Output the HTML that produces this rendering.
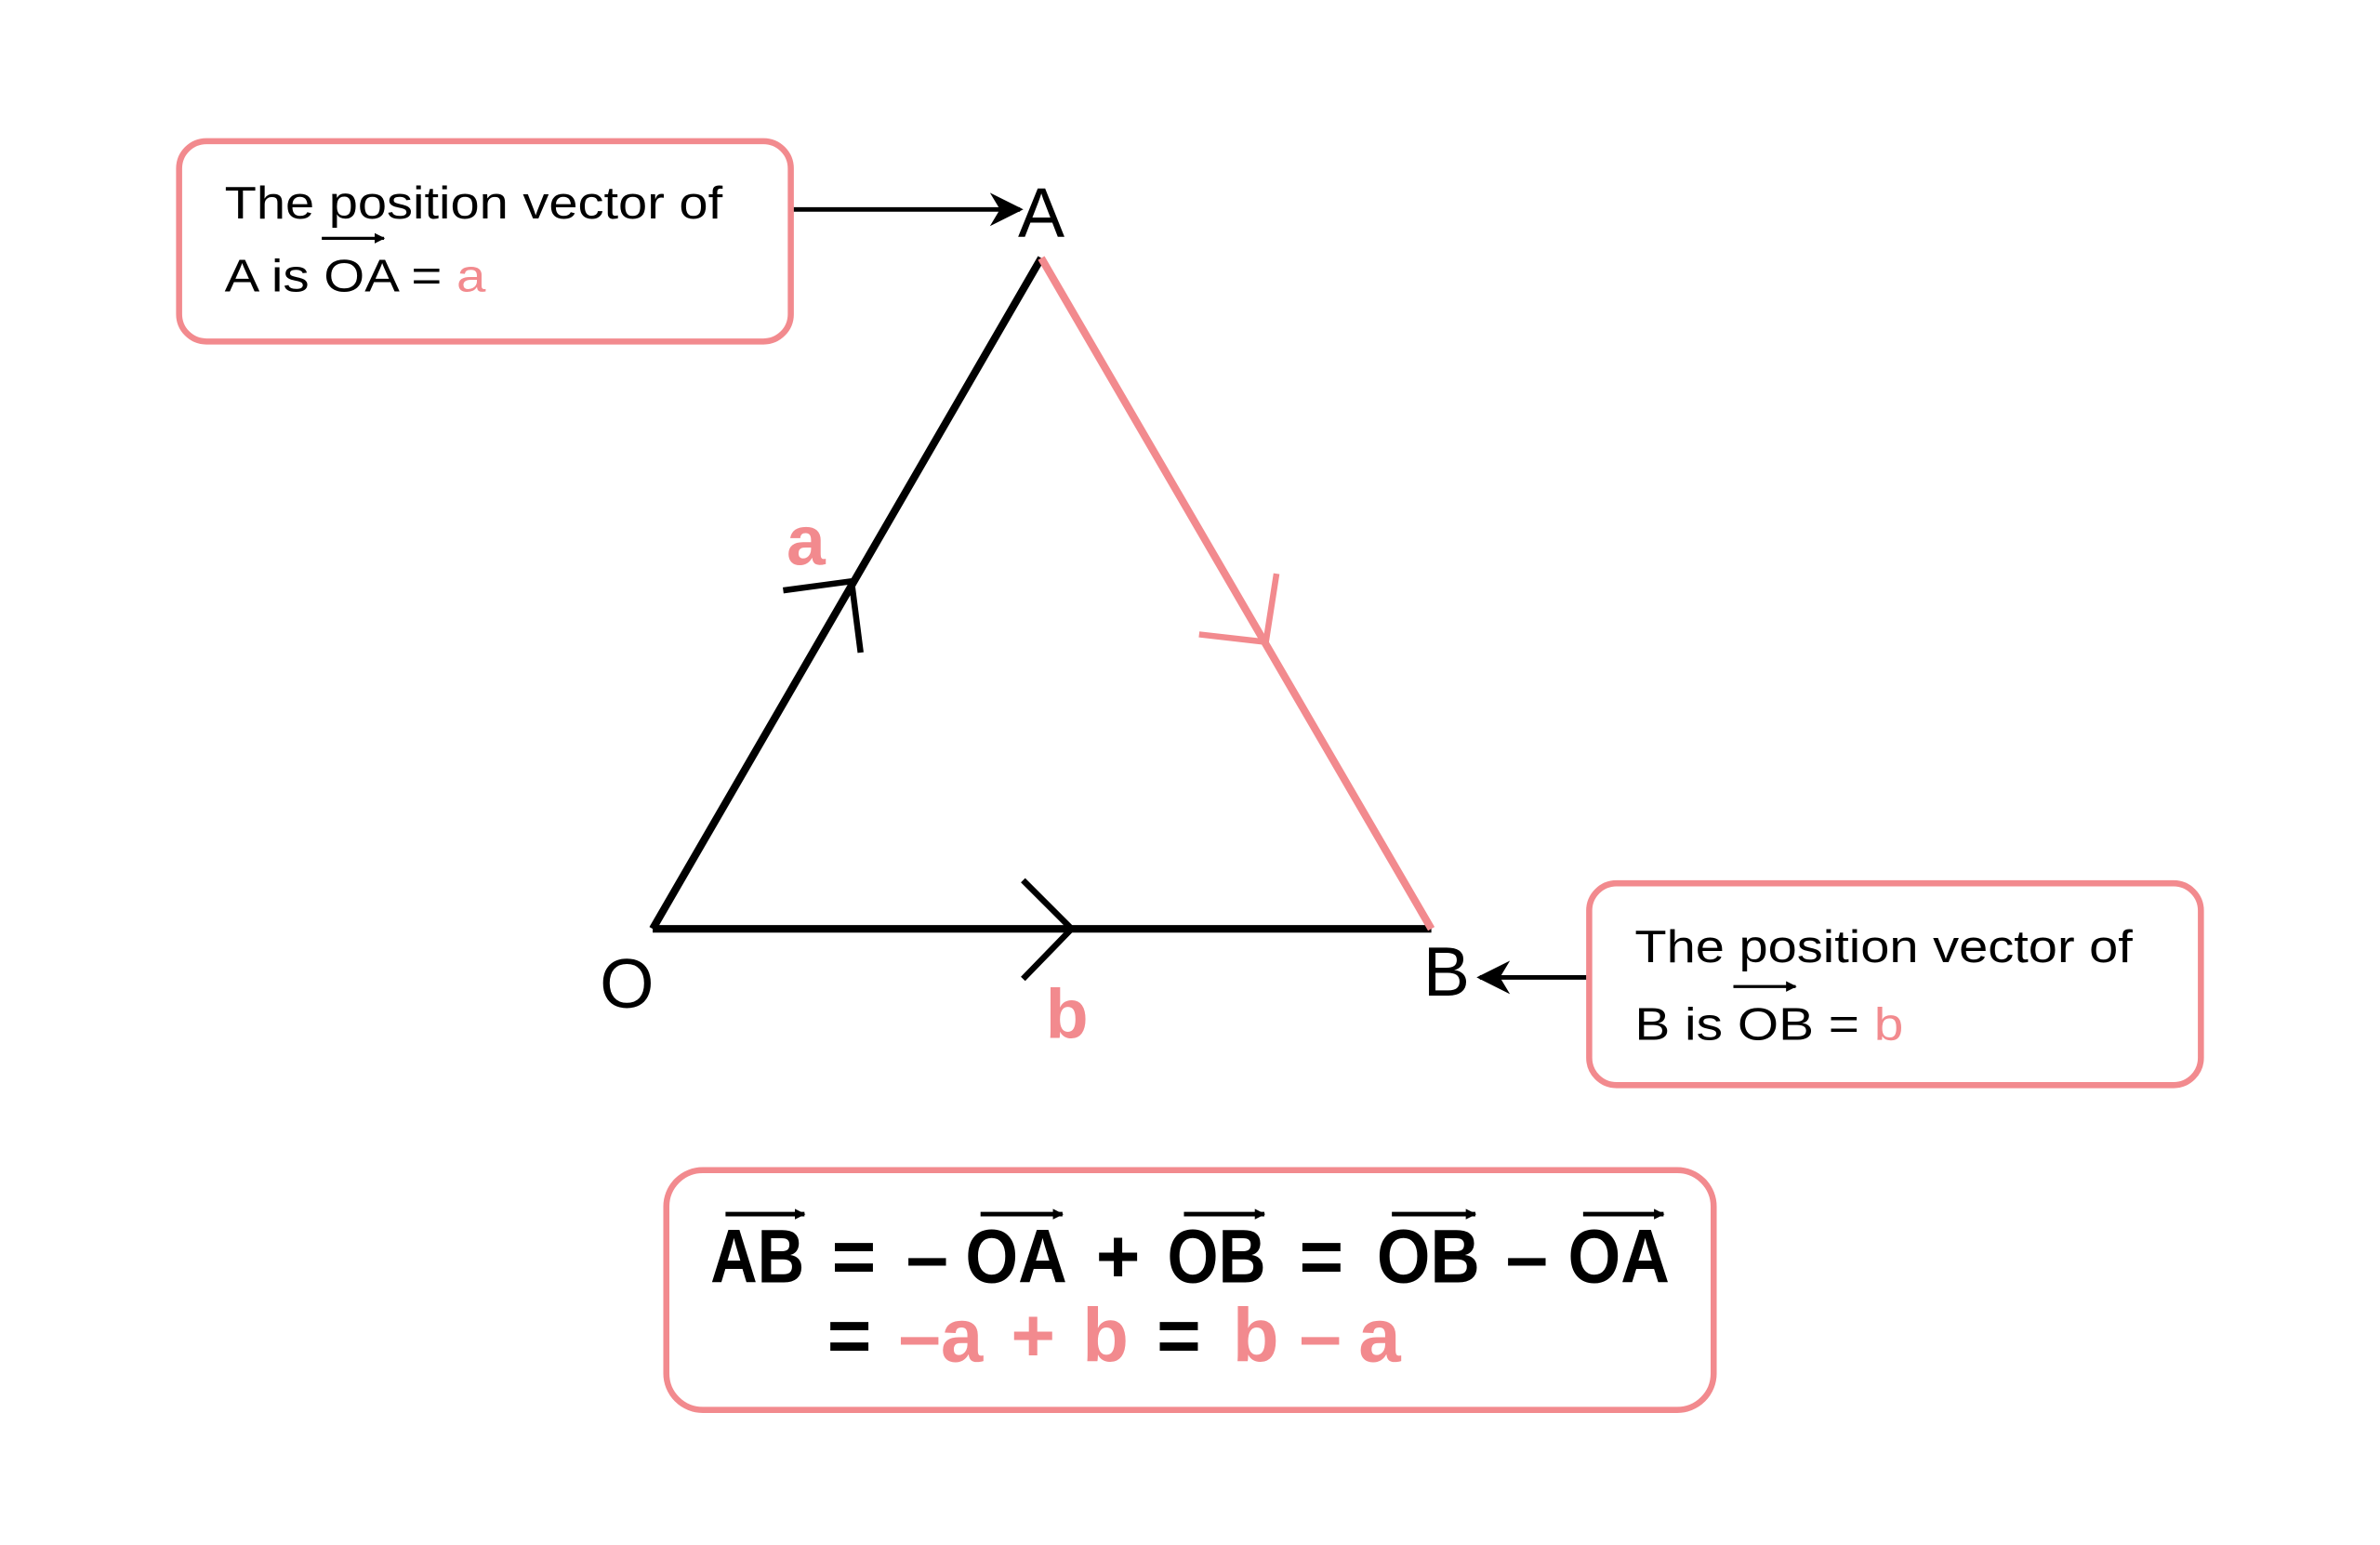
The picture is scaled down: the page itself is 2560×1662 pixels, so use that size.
<!DOCTYPE html>
<html><head><style>html,body{margin:0;padding:0;background:#fff}svg{display:block}</style></head>
<body>
<svg width="2560" height="1662" viewBox="0 0 1568 1018" preserveAspectRatio="none" xmlns="http://www.w3.org/2000/svg" font-family="Liberation Sans, sans-serif">
<defs>
<marker id="ah" viewBox="0 0 10 10" refX="9" refY="5" markerWidth="7" markerHeight="7" orient="auto" markerUnits="userSpaceOnUse"><path d="M0,0 L10,5 L0,10 z" fill="#000"/></marker>
<marker id="big" viewBox="0 0 10 10" refX="9" refY="5" markerWidth="26" markerHeight="22" orient="auto" markerUnits="userSpaceOnUse"><path d="M0,0 L10,5 L0,10 L3,5 z" fill="#000"/></marker>
</defs>
<g fill="none" stroke="#f28a8e" stroke-width="4">
<rect x="118" y="93" width="403" height="132" rx="18"/>
<rect x="1047" y="582" width="403" height="133" rx="18"/>
<rect x="439" y="771" width="690" height="158" rx="24"/>
</g>
<line x1="430" y1="612" x2="686" y2="170" stroke="#000" stroke-width="5"/>
<line x1="430" y1="612" x2="943" y2="612" stroke="#000" stroke-width="5"/>
<line x1="686" y1="170" x2="943" y2="612" stroke="#f28a8e" stroke-width="5"/>
<polyline points="516,389 561,383 567,430" fill="none" stroke="#000" stroke-width="4"/>
<polyline points="790,418 834,423 841,378" fill="none" stroke="#f28a8e" stroke-width="4"/>
<polyline points="674,580 706,612 674,645" fill="none" stroke="#000" stroke-width="4"/>
<line x1="523" y1="138" x2="672" y2="138" stroke="#000" stroke-width="3" marker-end="url(#big)"/>
<line x1="1045" y1="644" x2="975" y2="644" stroke="#000" stroke-width="3" marker-end="url(#big)"/>
<g font-size="46" fill="#000" text-anchor="middle">
<text x="686" y="156">A</text>
<text x="413" y="664">O</text>
<text x="953" y="656">B</text>
</g>
<g font-size="46" fill="#f28a8e" text-anchor="middle" font-weight="bold">
<text x="531" y="372">a</text>
<text x="703" y="684">b</text>
</g>
<g font-size="30" fill="#000">
<text x="148" y="144" textLength="328" lengthAdjust="spacingAndGlyphs">The position vector of</text>
<text x="148" y="192" textLength="172" lengthAdjust="spacingAndGlyphs">A is OA = <tspan fill="#f28a8e">a</tspan></text>
<text x="1077" y="634" textLength="328" lengthAdjust="spacingAndGlyphs">The position vector of</text>
<text x="1077" y="685" textLength="177" lengthAdjust="spacingAndGlyphs">B is OB = <tspan fill="#f28a8e">b</tspan></text>
</g>
<line x1="212" y1="157" x2="253" y2="157" stroke="#000" stroke-width="2" marker-end="url(#ah)"/>
<line x1="1142" y1="650" x2="1183" y2="650" stroke="#000" stroke-width="2" marker-end="url(#ah)"/>
<g font-size="50" fill="#000" font-weight="bold">
<text x="468" y="845" textLength="62" lengthAdjust="spacingAndGlyphs">AB</text>
<text x="548" y="845">=</text>
<text x="597" y="845">–</text>
<text x="636" y="845" textLength="67" lengthAdjust="spacingAndGlyphs">OA</text>
<text x="722" y="845">+</text>
<text x="769" y="845" textLength="65" lengthAdjust="spacingAndGlyphs">OB</text>
<text x="856" y="845">=</text>
<text x="907" y="845" textLength="68" lengthAdjust="spacingAndGlyphs">OB</text>
<text x="992" y="845">–</text>
<text x="1033" y="845" textLength="67" lengthAdjust="spacingAndGlyphs">OA</text>
<text x="545" y="897">=</text>
<text x="762" y="897">=</text>
</g>
<g font-size="50" fill="#f28a8e" font-weight="bold">
<text x="592" y="897">–a</text>
<text x="666" y="897">+</text>
<text x="713" y="897">b</text>
<text x="812" y="897">b</text>
<text x="856" y="897">–</text>
<text x="895" y="897">a</text>
</g>
<g stroke="#000" stroke-width="3" marker-end="url(#ah)">
<line x1="478" y1="800" x2="530" y2="800"/>
<line x1="646" y1="800" x2="700" y2="800"/>
<line x1="780" y1="800" x2="833" y2="800"/>
<line x1="917" y1="800" x2="972" y2="800"/>
<line x1="1043" y1="800" x2="1096" y2="800"/>
</g>
</svg>
</body></html>
